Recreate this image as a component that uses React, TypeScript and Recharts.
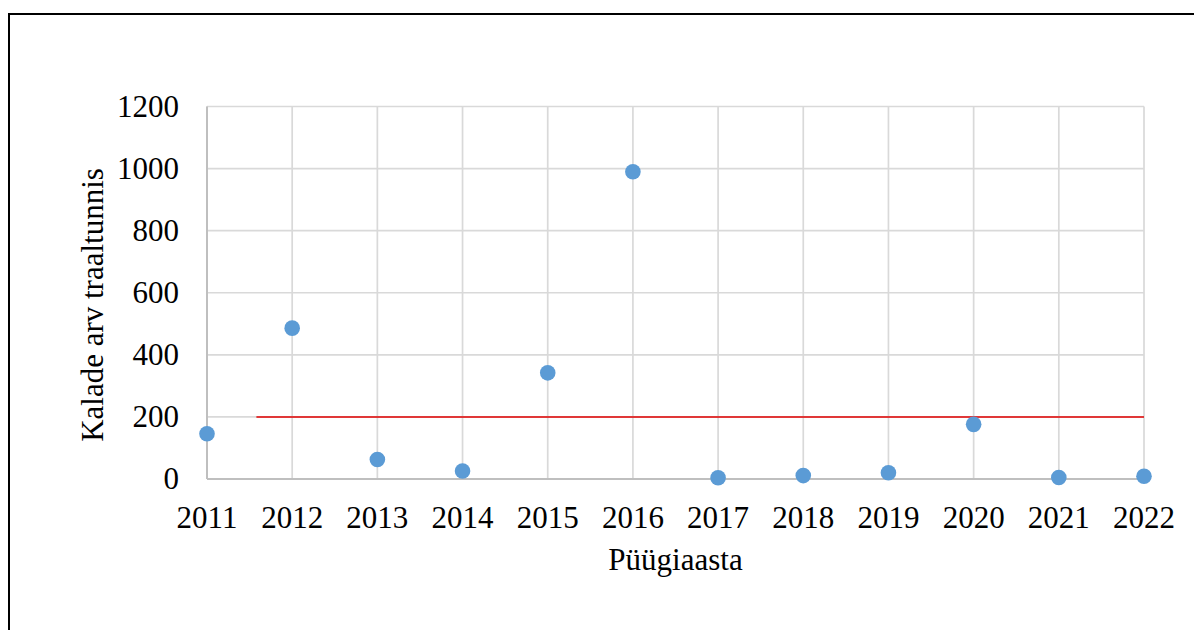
import React from 'react';
import { ScatterChart, Scatter, XAxis, YAxis, CartesianGrid, ReferenceLine } from 'recharts';

const years = [2011, 2012, 2013, 2014, 2015, 2016, 2017, 2018, 2019, 2020, 2021, 2022];
const fishCounts = [146, 486, 63, 26, 342, 990, 4, 11, 20, 176, 5, 9];
const yTicks = [0, 200, 400, 600, 800, 1000, 1200];
const thresholdValue = 200;
const thresholdStart = 2011.58;
const thresholdEnd = 2022;
const xTitle = 'Püügiaasta';
const yTitle = 'Kalade arv traaltunnis';

const data = years.map((y, i) => ({ year: y, count: fishCounts[i] }));

const FONT = "'Liberation Serif', 'Times New Roman', Tinos, 'DejaVu Serif', serif";
const FS = 31;
const txtStyle = { fontFamily: FONT, fontSize: FS, fill: '#000' } as React.CSSProperties;

const Dot = (p: any) => <circle cx={p.cx} cy={p.cy} r={7.8} fill="#5b9bd5" />;

const XTick = (p: any) => (
  <text x={p.x} y={p.y} dy={FS * 0.71} textAnchor="middle" style={txtStyle}>
    {p.payload.value}
  </text>
);

const YTick = (p: any) => (
  <text x={p.x} y={p.y} dy={FS * 0.33} textAnchor="end" style={txtStyle}>
    {p.payload.value}
  </text>
);

export default function App() {
  return (
    <div style={{ position: 'fixed', left: 0, top: 0, width: 1194, height: 630, background: '#fff', overflow: 'hidden', fontFamily: FONT }}>
      <div style={{ position: 'absolute', left: 8, top: 12.5, width: 1300, height: 800, border: '2px solid #000', boxSizing: 'border-box' }} />
      <div style={{ position: 'absolute', left: 0, top: 0 }}>
        <ScatterChart width={1194} height={630} margin={{ top: 106.5, right: 50, bottom: 111, left: 147 }} style={{ fontFamily: FONT }}>
          <CartesianGrid stroke="#d9d9d9" strokeWidth={1.7} />
          <XAxis
            type="number"
            dataKey="year"
            domain={[2011, 2022]}
            ticks={years}
            interval={0}
            height={40}
            tickLine={false}
            tickSize={0}
            tickMargin={27}
            tick={<XTick />}
            axisLine={{ stroke: '#bfbfbf', strokeWidth: 2 }}
            label={({ viewBox }: any) => (
              <text x={viewBox.x + viewBox.width / 2} y={570} textAnchor="middle" style={txtStyle}>
                {xTitle}
              </text>
            )}
          />
          <YAxis
            type="number"
            dataKey="count"
            domain={[0, 1200]}
            ticks={yTicks}
            interval={0}
            width={60}
            tickLine={false}
            tickSize={0}
            tickMargin={28}
            tick={<YTick />}
            axisLine={{ stroke: '#bfbfbf', strokeWidth: 2 }}
            label={() => (
              <text x={103} y={305} transform="rotate(-90 103 305)" textAnchor="middle" style={txtStyle}>
                {yTitle}
              </text>
            )}
          />
          <ReferenceLine
            segment={[{ x: thresholdStart, y: thresholdValue }, { x: thresholdEnd, y: thresholdValue }]}
            stroke="#e00000"
            strokeWidth={1.5}
            ifOverflow="visible"
          />
          <Scatter data={data} shape={<Dot />} isAnimationActive={false} />
        </ScatterChart>
      </div>
    </div>
  );
}
